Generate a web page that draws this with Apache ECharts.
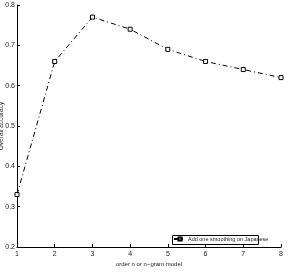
<!DOCTYPE html>
<html>
<head>
<meta charset="utf-8">
<script src="https://cdn.jsdelivr.net/npm/echarts@6/dist/echarts.min.js"></script>
<style>
  html, body { margin: 0; padding: 0; background: #fff; }
  #chart { width: 296px; height: 272px; }
</style>
</head>
<body>
<div id="chart"></div>
<script>
const orders = [1, 2, 3, 4, 5, 6, 7, 8];
const accuracy = [0.33, 0.66, 0.77, 0.74, 0.69, 0.66, 0.64, 0.62];
const seriesName = 'Add one smoothing on Japanese';

const chart = echarts.init(document.getElementById('chart'));
const font = 'Liberation Sans, Arial, sans-serif';

chart.setOption({
  animation: false,
  grid: { left: 17, right: 15, top: 5, bottom: 25, outerBoundsMode: 'none', containLabel: false },
  xAxis: {
    type: 'value',
    min: 1, max: 8, interval: 1,
    name: 'order n or n\u2212gram model',
    nameLocation: 'middle',
    nameGap: 14,
    nameMoveOverlap: false,
    nameTextStyle: { fontSize: 6, color: '#222', fontFamily: font },
    axisLine: { lineStyle: { color: '#000', width: 1 } },
    axisTick: { inside: true, length: 3, lineStyle: { color: '#000' } },
    axisLabel: { fontSize: 7, color: '#222', margin: 4, fontFamily: font },
    splitLine: { show: false }
  },
  yAxis: {
    type: 'value',
    min: 0.2, max: 0.8, interval: 0.1,
    name: 'Overall accuracy',
    nameLocation: 'middle',
    nameGap: 12,
    nameMoveOverlap: false,
    nameTextStyle: { fontSize: 6.5, color: '#222', fontFamily: font },
    axisLine: { show: true, lineStyle: { color: '#000', width: 1 } },
    axisTick: { show: true, inside: true, length: 3, lineStyle: { color: '#000' } },
    axisLabel: { fontSize: 7, color: '#222', margin: 2, fontFamily: font,
      formatter: v => v.toFixed(1) },
    splitLine: { show: false }
  },
  legend: {
    left: 173, top: 236,
    itemWidth: 12, itemHeight: 4, itemGap: 0,
    padding: 0,
    textStyle: { fontSize: 5.5, color: '#222', fontFamily: font, padding: [0, 0, 0, -3] },
    data: [seriesName]
  },
  graphic: [{
    type: 'rect',
    shape: { x: 172.5, y: 235.5, width: 86, height: 9 },
    style: { fill: 'none', stroke: '#000', lineWidth: 1 },
    silent: true
  }],
  series: [{
    name: seriesName,
    type: 'line',
    data: orders.map((o, i) => [o, accuracy[i]]),
    symbol: 'rect',
    symbolSize: 4,
    itemStyle: { color: '#fff', borderColor: '#000', borderWidth: 1 },
    lineStyle: { color: '#000', width: 1, type: [5, 3, 1, 3] }
  }]
});
</script>
</body>
</html>
